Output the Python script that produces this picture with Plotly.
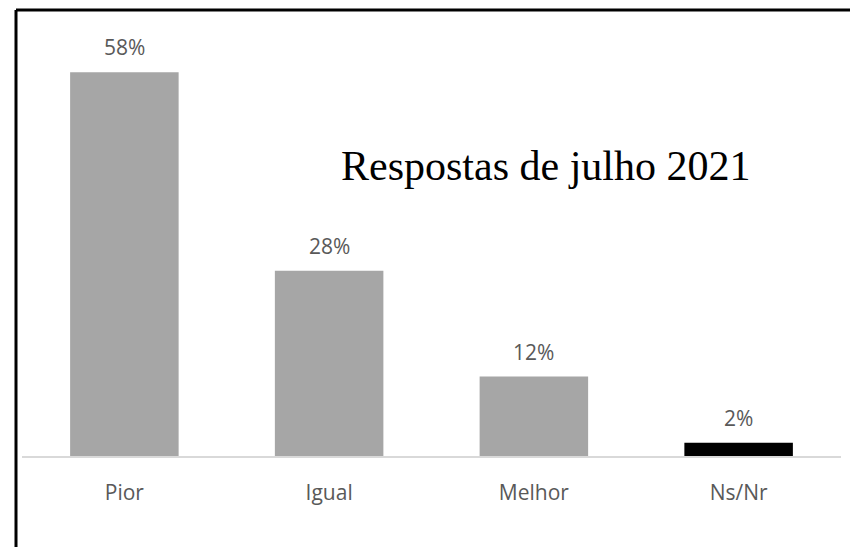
import plotly.graph_objects as go

categorias = ['Pior', 'Igual', 'Melhor', 'Ns/Nr']
valores = [0.58, 0.28, 0.12, 0.02]
rotulos = ['58%', '28%', '12%', '2%']
cores = ['#a6a6a6', '#a6a6a6', '#a6a6a6', '#000000']
titulo = 'Respostas de julho 2021'

# a pagina tem 8px de margem no body: a figura ocupa 850x539 para caber
# exatamente na janela 858x555 (sem barra de rolagem)
M = 8
W, H = 858 - M, 555 - 2 * M


def px(x):
    return (x - M) / W


def py(y):
    return (H - (y - M)) / H


fig = go.Figure()
fig.add_trace(go.Bar(x=categorias, y=valores,
                     marker=dict(color=cores, line=dict(width=0)),
                     hoverinfo='x+y'))

# rotulos de valor acima das barras
for cat, val, rot in zip(categorias, valores, rotulos):
    fig.add_annotation(x=cat, y=val, text=rot, showarrow=False,
                       xanchor='center', yanchor='bottom', yshift=9,
                       font=dict(family='Open Sans', size=21, color='#595959'))

fig.update_layout(width=W, height=H,
                  margin=dict(l=0, r=0, t=0, b=0),
                  plot_bgcolor='white', paper_bgcolor='white',
                  showlegend=False, bargap=0.47)

fig.update_xaxes(domain=[px(22), px(841)],
                 showline=True, linecolor='#d9d9d9', linewidth=2,
                 showgrid=False, ticks='', ticklabelstandoff=17,
                 tickfont=dict(family='Open Sans', size=21, color='#595959'))
fig.update_yaxes(domain=[py(456), py(26)], range=[0, 0.65],
                 visible=False, showgrid=False)

# titulo dentro do grafico
fig.add_annotation(text=titulo, xref='paper', yref='paper',
                   x=px(545), y=py(166), showarrow=False,
                   xanchor='center', yanchor='middle',
                   font=dict(family='Liberation Serif', size=42, color='black'))

# moldura: so a borda esquerda e a de cima aparecem
fig.add_shape(type='line', xref='paper', yref='paper',
              x0=px(16), x1=px(16), y0=0, y1=py(10),
              line=dict(color='black', width=3))
fig.add_shape(type='line', xref='paper', yref='paper',
              x0=px(16), x1=1, y0=py(10), y1=py(10),
              line=dict(color='black', width=3))

fig.write_html("out.html", config={'displayModeBar': False})
